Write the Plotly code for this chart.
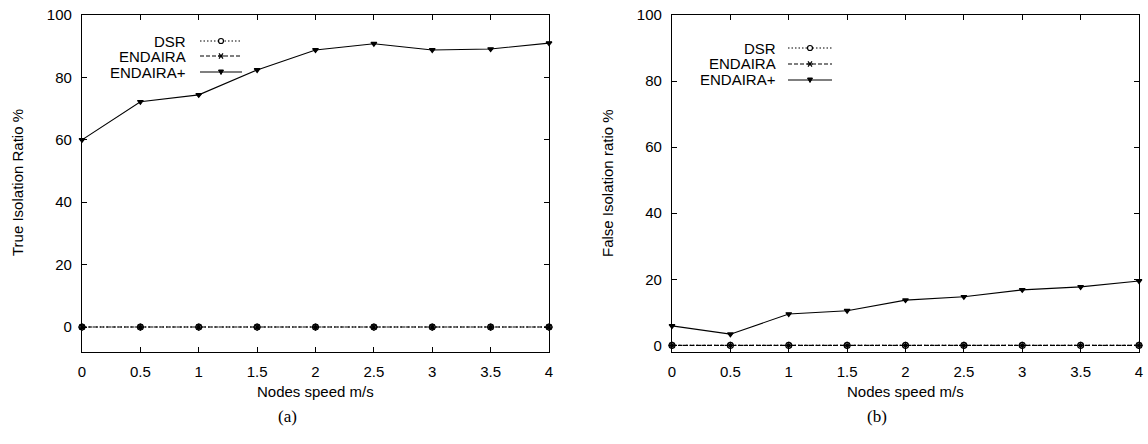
import plotly.graph_objects as go

speed = [0, 0.5, 1, 1.5, 2, 2.5, 3, 3.5, 4]
speed_labels = ["0", "0.5", "1", "1.5", "2", "2.5", "3", "3.5", "4"]

true_dsr = [0, 0, 0, 0, 0, 0, 0, 0, 0]
true_endaira = [0, 0, 0, 0, 0, 0, 0, 0, 0]
true_endaira_plus = [60, 72.2, 74.4, 82.4, 88.8, 90.8, 88.8, 89.1, 91]

false_dsr = [0, 0, 0, 0, 0, 0, 0, 0, 0]
false_endaira = [0, 0, 0, 0, 0, 0, 0, 0, 0]
false_endaira_plus = [5.9, 3.4, 9.5, 10.5, 13.7, 14.7, 16.8, 17.7, 19.5]

series_names = ["DSR", "ENDAIRA", "ENDAIRA+"]
y_ticks = [0, 20, 40, 60, 80, 100]

W, H = 1148, 444
SANS = "Liberation Sans, Arial, Helvetica, sans-serif"
SERIF = "Liberation Serif, Times New Roman, serif"

styles = [
    dict(dash="1.5px,2px", symbol="circle-open", size=6),
    dict(dash="4px,2px", symbol="asterisk-open", size=6),
    dict(dash="solid", symbol="triangle-down", size=5),
]

fig = go.Figure()

panels = [
    ("x", "y", [true_dsr, true_endaira, true_endaira_plus]),
    ("x2", "y2", [false_dsr, false_endaira, false_endaira_plus]),
]
for xa, ya, data in panels:
    for name, vals, st in zip(series_names, data, styles):
        fig.add_trace(go.Scatter(
            x=speed, y=vals, name=name, xaxis=xa, yaxis=ya,
            mode="lines+markers", cliponaxis=False, showlegend=False,
            line=dict(color="black", width=1.1, dash=st["dash"]),
            marker=dict(symbol=st["symbol"], size=st["size"], color="black",
                        line=dict(color="black", width=1.2)),
        ))

def px(x):
    return x / W

def py(y):
    return 1 - y / H

axis_common = dict(
    showline=True, linecolor="black", linewidth=1.3, mirror="ticks",
    ticks="inside", ticklen=5, tickcolor="black", tickwidth=1,
    showgrid=False, zeroline=False, automargin=False,
    tickfont=dict(family=SANS, size=15, color="black"),
)

fig.update_layout(
    template="none",
    width=W, height=H,
    margin=dict(l=0, r=0, t=0, b=0, pad=0),
    paper_bgcolor="white", plot_bgcolor="white",
    showlegend=False,
    xaxis=dict(domain=[px(82), px(549)], range=[0, 4], tickvals=speed,
               ticktext=speed_labels, anchor="y", ticklabelstandoff=6, **axis_common),
    yaxis=dict(domain=[py(352), py(15)], range=[-8, 100], tickvals=y_ticks,
               anchor="x", ticklabelstandoff=6, **axis_common),
    xaxis2=dict(domain=[px(672), px(1139)], range=[0, 4], tickvals=speed,
                ticktext=speed_labels, anchor="y2", ticklabelstandoff=6, **axis_common),
    yaxis2=dict(domain=[py(352), py(15)], range=[-2, 100], tickvals=y_ticks,
                anchor="x2", ticklabelstandoff=6, **axis_common),
)

def note(x, y, text, family=SANS, size=15, xanchor="center", angle=0):
    return dict(x=px(x), y=py(y), xref="paper", yref="paper", text=text,
                showarrow=False, xanchor=xanchor, yanchor="middle", textangle=angle,
                font=dict(family=family, size=size, color="black"))

annotations = []
for cx in (315, 905):
    annotations.append(note(cx, 391, "Nodes speed m/s"))
annotations.append(note(17, 183, "True Isolation Ratio %", angle=-90))
annotations.append(note(607, 183, "False Isolation ratio %", angle=-90))
annotations.append(note(287, 416, "(a)", family=SERIF, size=17))
annotations.append(note(877, 416, "(b)", family=SERIF, size=17))

shapes = []
legend_cfg = [
    (188, 200, 242, [41, 56, 72]),
    (778, 788, 832, [48, 64, 80]),
]
for text_right, s0, s1, rows in legend_cfg:
    for name, st, ry in zip(series_names, styles, rows):
        annotations.append(note(text_right, ry, name, xanchor="right"))
        shapes.append(dict(type="line", xref="paper", yref="paper",
                           x0=px(s0), x1=px(s1), y0=py(ry), y1=py(ry),
                           line=dict(color="black", width=1.1, dash=st["dash"])))
        mx = px((s0 + s1) / 2)
        my = py(ry)
        if st["symbol"] == "circle-open":
            shapes.append(dict(type="circle", xref="paper", yref="paper",
                               xsizemode="pixel", ysizemode="pixel",
                               xanchor=mx, yanchor=my, x0=-2.5, x1=2.5, y0=-2.5, y1=2.5,
                               fillcolor="white", line=dict(color="black", width=1.2)))
        elif st["symbol"] == "asterisk-open":
            shapes.append(dict(type="path", xref="paper", yref="paper",
                               xsizemode="pixel", ysizemode="pixel",
                               xanchor=mx, yanchor=my,
                               path="M -3,0 L 3,0 M -2,-2.6 L 2,2.6 M -2,2.6 L 2,-2.6",
                               line=dict(color="black", width=1.2)))
        else:
            shapes.append(dict(type="path", xref="paper", yref="paper",
                               xsizemode="pixel", ysizemode="pixel",
                               xanchor=mx, yanchor=my,
                               path="M -2.5,2 L 2.5,2 L 0,-2.5 Z",
                               fillcolor="black", line=dict(color="black", width=1)))

fig.update_layout(annotations=annotations, shapes=shapes)

# remove the default page margin so the figure sits at the window's top-left corner
fig.write_html(
    "out.html",
    config={"displayModeBar": False},
    post_script="document.body.style.margin='0';document.body.style.overflow='hidden';",
)
